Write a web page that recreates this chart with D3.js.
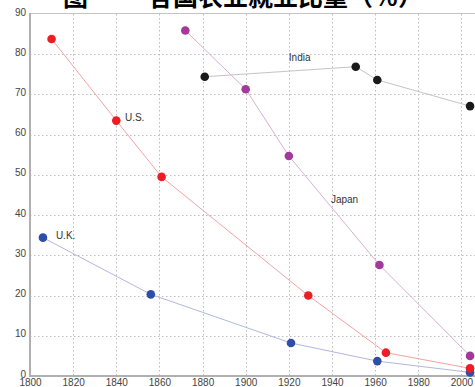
<!DOCTYPE html>
<html>
<head>
<meta charset="utf-8">
<script src="https://cdn.jsdelivr.net/npm/d3@7"></script>
<style>
  html, body { margin: 0; padding: 0; background: #fff; }
  svg { display: block; }
  .tick text { font-family: "Liberation Sans", Arial, sans-serif; font-size: 10px; fill: #444; }
</style>
</head>
<body>
<svg id="chart" width="475" height="387"></svg>
<script>
// Share of employment in agriculture (%), by year
const usYears = [1810, 1840, 1861, 1929, 1965, 2004];
const usShare = [83.8, 63.5, 49.5, 20.0, 5.8, 1.9];

const ukYears = [1806, 1856, 1921, 1961, 2004];
const ukShare = [34.4, 20.3, 8.2, 3.7, 0.9];

const japanYears = [1872, 1900, 1920, 1962, 2004];
const japanShare = [85.9, 71.3, 54.7, 27.6, 5.0];

const indiaYears = [1881, 1951, 1961, 2004];
const indiaShare = [74.4, 76.9, 73.6, 67.1];

const xTicks = [1800, 1820, 1840, 1860, 1880, 1900, 1920, 1940, 1960, 1980, 2000];
const yTicks = [0, 10, 20, 30, 40, 50, 60, 70, 80, 90];

const series = [
  { name: "U.K.",  years: ukYears,    values: ukShare,    dot: "#2f4ea8", line: "#b0b8e0", label: [1812, 34] },
  { name: "U.S.",  years: usYears,    values: usShare,    dot: "#ee1c24", line: "#f4a3a3", label: [1844, 63.4] },
  { name: "Japan", years: japanYears, values: japanShare, dot: "#a3399a", line: "#d8b0d4", label: [1939.5, 43] },
  { name: "India", years: indiaYears, values: indiaShare, dot: "#1a1a1a", line: "#c4c4c4", label: [1920, 78.2] }
];

const svg = d3.select("#chart");
const plotLeft = 30, plotRight = 483, plotTop = 14, plotBottom = 376;

const x = d3.scaleLinear().domain([1800, 2010]).range([plotLeft, plotRight]);
const y = d3.scaleLinear().domain([0, 90]).range([plotBottom, plotTop]);

// Title
const title = svg.append("g")
  .attr("font-family", "'Noto Sans CJK SC', sans-serif")
  .attr("font-size", 25)
  .attr("font-weight", 700)
  .attr("fill", "#000");
title.append("text").attr("x", 63).attr("y", 5.5).text("图");
title.append("text").attr("x", 148).attr("y", 5.5).text("各国农业就业比重（％）");

// Grid
const grid = svg.append("g").attr("stroke", "#bcbcbc").attr("stroke-width", 1)
  .attr("stroke-dasharray", "1.5,2.5").attr("fill", "none");
grid.selectAll("line.v").data(xTicks.slice(1)).join("line")
  .attr("x1", d => Math.round(x(d)) + 0.5).attr("x2", d => Math.round(x(d)) + 0.5)
  .attr("y1", plotTop).attr("y2", plotBottom);
grid.selectAll("line.h").data(yTicks.slice(1, -1)).join("line")
  .attr("x1", plotLeft).attr("x2", 475)
  .attr("y1", d => Math.round(y(d)) + 0.5).attr("y2", d => Math.round(y(d)) + 0.5);

// Top frame line
svg.append("line").attr("x1", plotLeft).attr("x2", 475)
  .attr("y1", plotTop - 0.5).attr("y2", plotTop - 0.5)
  .attr("stroke", "#c4c4c4").attr("stroke-width", 1);

// Axes
const xAxis = d3.axisBottom(x).tickValues(xTicks).tickFormat(d3.format("d")).tickSize(0).tickPadding(3);
const yAxis = d3.axisLeft(y).tickValues(yTicks).tickSize(0).tickPadding(4);

const gx = svg.append("g").attr("transform", `translate(0,${plotBottom})`).call(xAxis);
gx.select(".domain").remove();
const gy = svg.append("g").attr("transform", `translate(${plotLeft},0)`).call(yAxis);
gy.select(".domain").remove();
gy.selectAll(".tick text").attr("dy", "0.1em");

svg.append("line").attr("x1", plotLeft).attr("x2", plotLeft).attr("y1", plotTop - 1).attr("y2", plotBottom + 1)
  .attr("stroke", "#b0b0b0").attr("stroke-width", 2);
svg.append("line").attr("x1", plotLeft - 1).attr("x2", 475).attr("y1", plotBottom).attr("y2", plotBottom)
  .attr("stroke", "#b0b0b0").attr("stroke-width", 2);

// Series
const lineGen = d3.line().x(d => x(d[0])).y(d => y(d[1]));
series.forEach(s => {
  const pts = s.years.map((yr, i) => [yr, s.values[i]]);
  svg.append("path").datum(pts)
    .attr("d", lineGen)
    .attr("fill", "none")
    .attr("stroke", s.line)
    .attr("stroke-width", 1);
});
series.forEach(s => {
  const pts = s.years.map((yr, i) => [yr, s.values[i]]);
  svg.append("g").selectAll("circle").data(pts).join("circle")
    .attr("cx", d => x(d[0])).attr("cy", d => y(d[1]))
    .attr("r", 4.3)
    .attr("fill", s.dot);
  svg.append("text")
    .attr("x", x(s.label[0])).attr("y", y(s.label[1]))
    .attr("font-family", "'Liberation Sans', Arial, sans-serif")
    .attr("font-size", 10)
    .attr("fill", "#333")
    .text(s.name);
});
</script>
</body>
</html>
